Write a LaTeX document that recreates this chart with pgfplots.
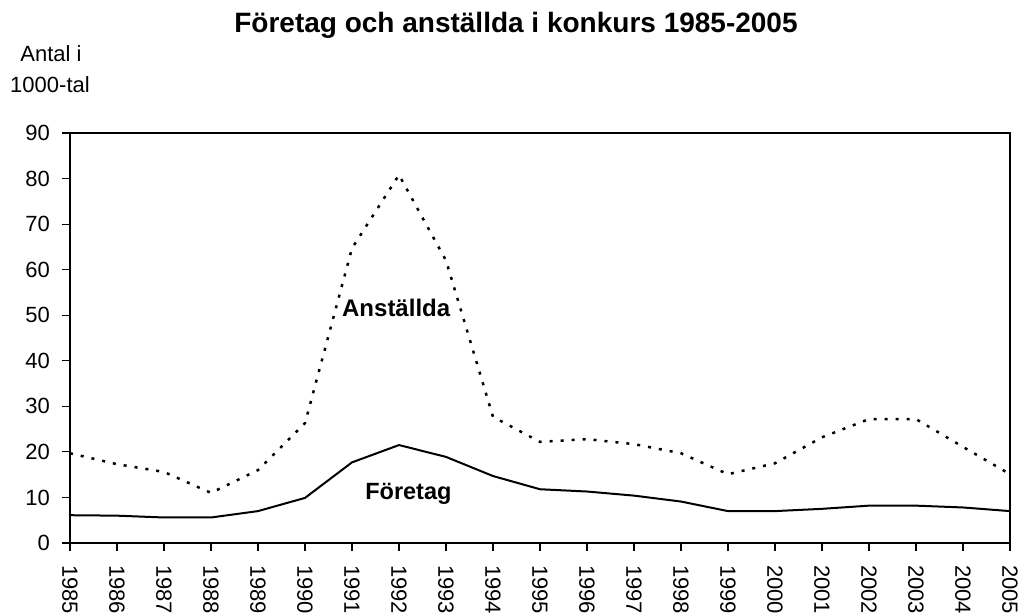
\documentclass[border=0pt]{standalone}
\usepackage{pgfplots}
\pgfplotsset{compat=1.18}
\usepackage{fontspec}
\setmainfont{Liberation Sans}

\pgfplotstableread{
year  foretag anstallda
1985  6.1   19.7
1986  6.0   17.3
1987  5.6   15.6
1988  5.6   11.0
1989  7.0   16.0
1990  9.9   26.3
1991  17.7  64.7
1992  21.5  80.8
1993  18.9  62.0
1994  14.7  27.7
1995  11.8  22.2
1996  11.3  22.8
1997  10.4  21.7
1998  9.1   19.7
1999  7.0   15.1
2000  7.0   17.5
2001  7.5   23.2
2002  8.2   27.2
2003  8.2   27.2
2004  7.8   21.1
2005  7.0   15.1
}\konkurs

\begin{document}
\begin{tikzpicture}
\begin{axis}[
    at={(0pt,0pt)}, anchor=south west,
    width=940pt, height=410pt, scale only axis,
    xmin=1985, xmax=2005, ymin=0, ymax=90,
    xtick={1985,...,2005}, ytick={0,10,...,90},
    xtick pos=bottom, ytick pos=left,
    tick align=outside, major tick length=8pt,
    axis line style={line width=1.5pt}, tick style={line width=1.2pt, black},
    /pgf/number format/assume math mode=true,
    /pgf/number format/1000 sep={},
    ticklabel style={font=\fontsize{22}{25}\selectfont, inner sep=0pt},
    xticklabel style={rotate=-90, anchor=west},
    xticklabel shift=14pt, yticklabel shift=12pt,
    clip=false,
]
\addplot[black, line width=2pt] table[x=year, y=foretag] {\konkurs};
\addplot[black, line width=2.5pt, dash pattern=on 3pt off 8pt] table[x=year, y=anstallda] {\konkurs};
\node[anchor=base, font=\fontsize{24}{27}\selectfont\bfseries] at (axis cs:1991.94,49.8) {Anställda};
\node[anchor=base, font=\fontsize{23.5}{26}\selectfont\bfseries] at (axis cs:1992.2,9.44) {Företag};
\end{axis}
\node[anchor=base, font=\fontsize{28}{31}\selectfont\bfseries] at (446pt,510pt) {Företag och anställda i konkurs 1985-2005};
\node[anchor=base, font=\fontsize{22}{25}\selectfont] at (-19pt,481pt) {Antal i};
\node[anchor=base, font=\fontsize{22}{25}\selectfont] at (-20pt,450pt) {1000-tal};
\pgfresetboundingbox
\path[use as bounding box] (-70pt,-73pt) rectangle (951pt,543pt);
\end{tikzpicture}
\end{document}
